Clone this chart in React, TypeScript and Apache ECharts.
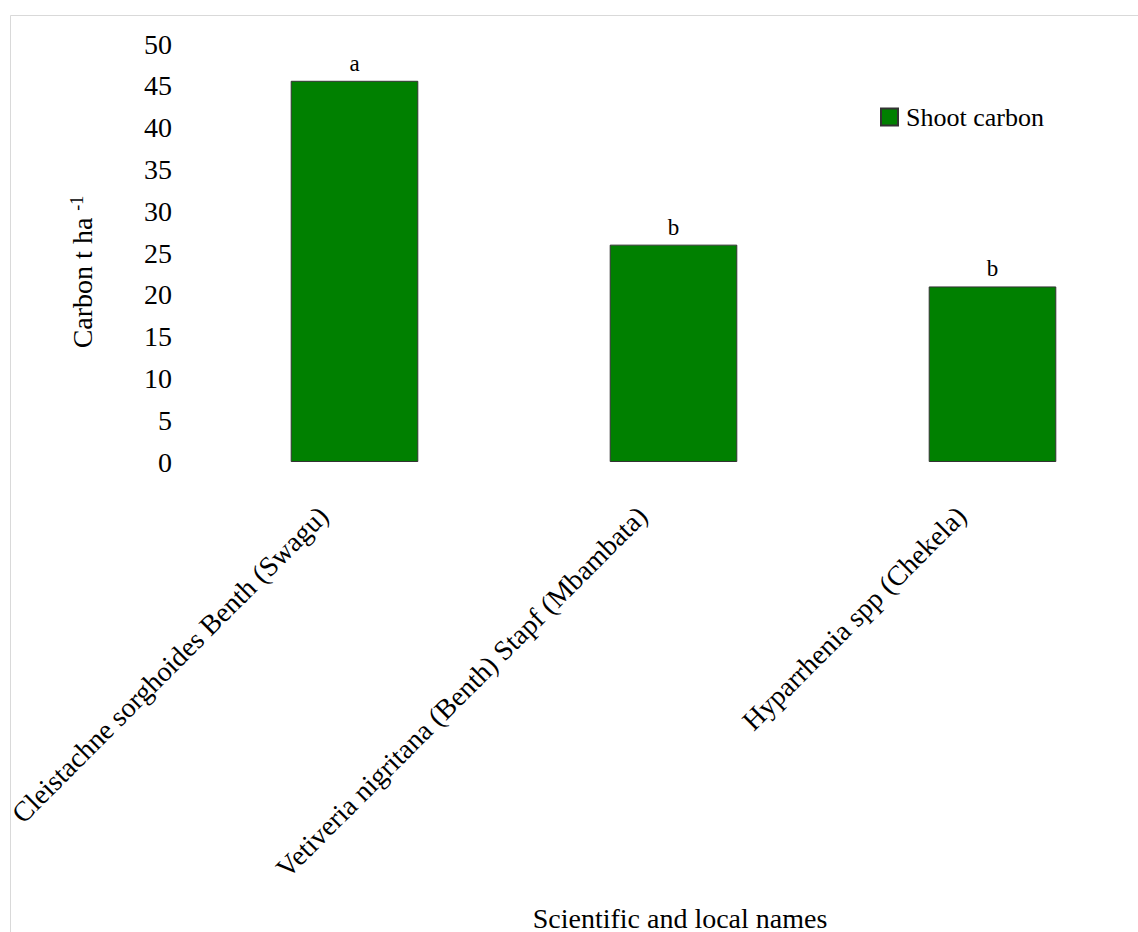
import React, { useEffect, useRef } from "react";
import * as echarts from "echarts";

const categories = [
  "Cleistachne sorghoides Benth (Swagu)",
  "Vetiveria nigritana (Benth) Stapf (Mbambata)",
  "Hyparrhenia spp (Chekela)",
];
const shootCarbon = [45.6, 26.0, 21.0];
const letters = ["a", "b", "b"];
const seriesName = "Shoot carbon";
const xAxisTitle = "Scientific and local names";

const FONT = "'Liberation Serif', 'Times New Roman', serif";
const W = 1160;

export default function App() {
  const ref = useRef<HTMLDivElement>(null);
  useEffect(() => {
    const chart = echarts.init(ref.current!, null, { renderer: "svg" });
    chart.setOption({
      animation: false,
      textStyle: { fontFamily: FONT },
      grid: { left: 195, right: W - 1152, top: 44, bottom: 932 - 462, containLabel: false },
      legend: {
        data: [seriesName],
        left: 880,
        top: 104,
        padding: 0,
        itemWidth: 17,
        itemHeight: 17,
        itemGap: 8,
        textStyle: { fontFamily: FONT, fontSize: 26, color: "#000", padding: [6, 0, 0, 3] },
        icon: "rect",
      },
      xAxis: {
        type: "category",
        data: categories,
        axisLine: { show: false },
        axisTick: { show: false },
        axisLabel: {
          rotate: 45,
          interval: 0,
          margin: 18,
          padding: [0, 44, 0, 0],
          fontFamily: FONT,
          fontSize: 28,
          color: "#000",
        },
      },
      yAxis: {
        type: "value",
        min: 0,
        max: 50,
        interval: 5,
        axisLine: { show: false },
        axisTick: { show: false },
        splitLine: { show: false },
        axisLabel: { margin: 23, fontFamily: FONT, fontSize: 28, color: "#000" },
      },
      graphic: [
        {
          type: "rect",
          shape: { x: 10.5, y: 15.5, width: 1200, height: 1000 },
          style: { fill: "none", stroke: "#d9d9d9", lineWidth: 1 },
          silent: true,
        },
        {
          type: "text",
          x: 680,
          y: 918,
          style: {
            text: xAxisTitle,
            font: `28px ${FONT}`,
            fill: "#000",
            textAlign: "center",
            textVerticalAlign: "middle",
          },
        },
        {
          type: "text",
          x: 82,
          y: 272,
          rotation: Math.PI / 2,
          style: {
            text: "{m|Carbon t ha }{s|-1}",
            rich: {
              m: { font: `28px ${FONT}`, fill: "#000" },
              s: { font: `18px ${FONT}`, fill: "#000", verticalAlign: "top", padding: [0, 0, 10, 0] },
            },
            textAlign: "center",
            textVerticalAlign: "middle",
          },
        },
      ],
      series: [
        {
          name: seriesName,
          type: "bar",
          data: shootCarbon,
          barWidth: "40%",
          itemStyle: { color: "#008000", borderColor: "#333", borderWidth: 1 },
          label: {
            show: true,
            position: "top",
            distance: 6,
            formatter: (p: any) => letters[p.dataIndex],
            fontFamily: FONT,
            fontSize: 23,
            color: "#000",
          },
        },
      ],
    });
    return () => chart.dispose();
  }, []);
  return (
    <div style={{ position: "absolute", left: 0, top: 0, width: 1138, height: 932, overflow: "hidden", background: "#fff" }}>
      <div ref={ref} style={{ width: W, height: 932 }} />
    </div>
  );
}
